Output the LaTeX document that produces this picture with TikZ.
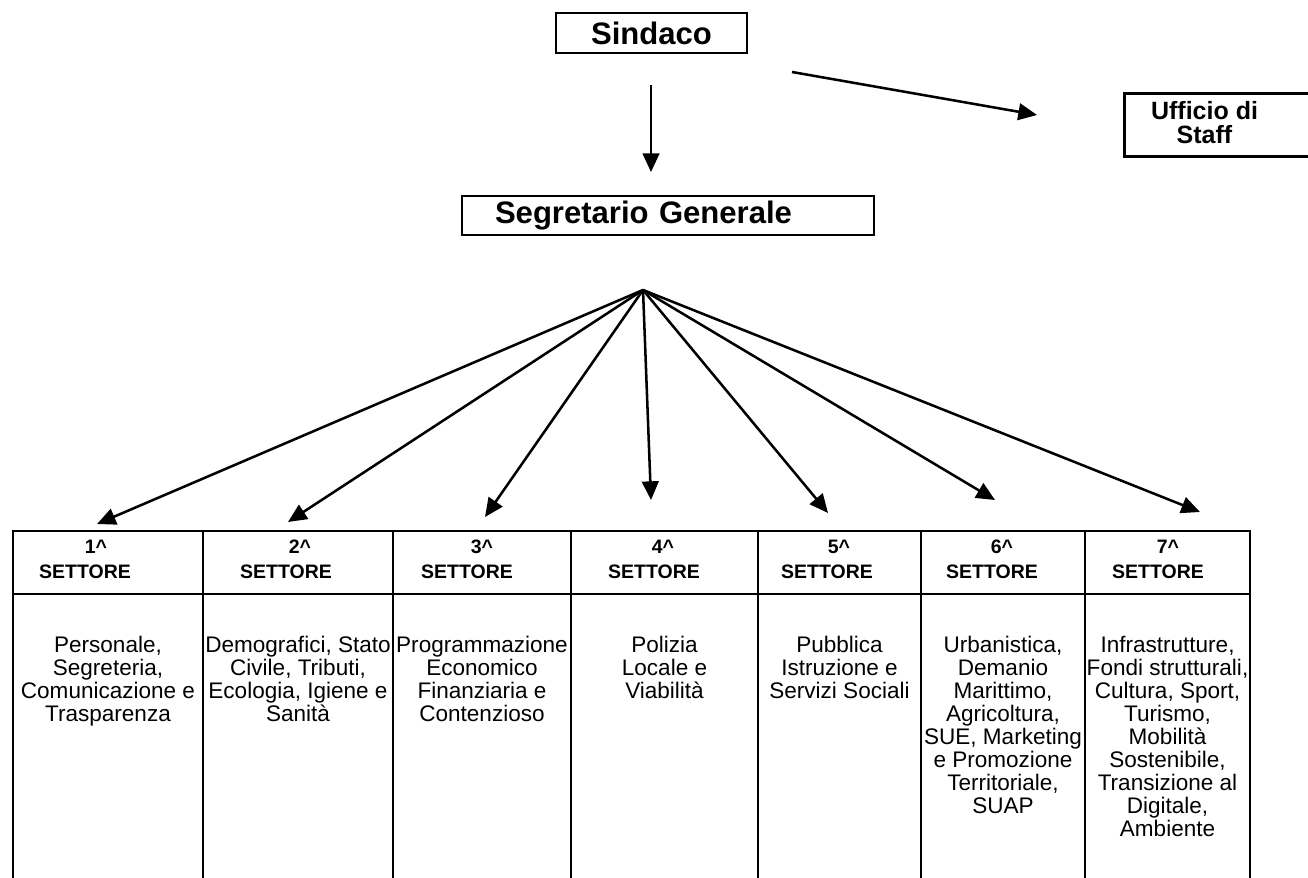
\documentclass[tikz,border=0pt]{standalone}
\usepackage{fontspec}
\setmainfont{Liberation Sans}
\usetikzlibrary{arrows.meta}
\begin{document}
\begin{tikzpicture}[x=0.75pt,y=-0.75pt,
  box/.style={draw, line width=2.1pt, inner sep=0pt},
  titlefont/.style={font=\bfseries\fontsize{23.3pt}{27pt}\selectfont},
  stafffont/.style={font=\bfseries\fontsize{18.75pt}{18pt}\selectfont, align=center, inner sep=0pt},
  headtext/.style={font=\bfseries\fontsize{14.6pt}{17pt}\selectfont, inner sep=0pt, anchor=base},
  bodytext/.style={font=\fontsize{16.9pt}{17.25pt}\selectfont, align=center, inner sep=0pt, anchor=north},
  arr/.style={line width=1.9pt, -{Triangle[length=14pt,width=12.5pt]}},
  gridline/.style={line width=1.9pt, line cap=rect}
]
\useasboundingbox (0,0) rectangle (1308,877);
\clip (0,0) rectangle (1308,877);

% top boxes
\node[box, titlefont, minimum width=143.25pt, minimum height=30pt] (sindaco) at (651.5,33) {Sindaco};
\node[box, titlefont, minimum height=29.25pt, inner xsep=24.75pt, text width=259.5pt, align=left] (segr) at (668,215.5) {Segretario Generale};
\node[box, minimum width=150pt, minimum height=47.25pt, anchor=north west] (staff) at (1123,92) {};
\node[stafffont, anchor=north] (stafftext) at (1204.5,101) {Ufficio di\\Staff};

% arrows from Sindaco
\coordinate (sa) at (651,85);
\coordinate (sb) at (651,172);
\draw[arr] (sa) -- (sb);
\coordinate (ta) at (792,72);
\coordinate (tb) at (1037,115);
\draw[arr] (ta) -- (tb);

% fan from Segretario
\coordinate (fan) at (643,290);
\coordinate (e1) at (97,524);
\coordinate (e2) at (288,522);
\coordinate (e3) at (485,517);
\coordinate (e4) at (651,500);
\coordinate (e5) at (828,513);
\coordinate (e6) at (995,500);
\coordinate (e7) at (1200,512);
\foreach \i in {1,...,7} \draw[arr] (fan) -- (e\i);

% table
\foreach \x in {13,203,393,571,758,921,1085,1250} \draw[gridline] (\x,531) -- (\x,880);
\draw[gridline] (13,531) -- (1250,531);
\draw[gridline] (13,594) -- (1250,594);

% headers
\node[headtext] (n1) at (96,553) {1\textasciicircum};
\node[headtext] (h1) at (85,578) {SETTORE};
\node[headtext] (n2) at (300,553) {2\textasciicircum};
\node[headtext] (h2) at (286,578) {SETTORE};
\node[headtext] (n3) at (482,553) {3\textasciicircum};
\node[headtext] (h3) at (467,578) {SETTORE};
\node[headtext] (n4) at (663,553) {4\textasciicircum};
\node[headtext] (h4) at (654,578) {SETTORE};
\node[headtext] (n5) at (839,553) {5\textasciicircum};
\node[headtext] (h5) at (827,578) {SETTORE};
\node[headtext] (n6) at (1002,553) {6\textasciicircum};
\node[headtext] (h6) at (992,578) {SETTORE};
\node[headtext] (n7) at (1168,553) {7\textasciicircum};
\node[headtext] (h7) at (1158,578) {SETTORE};

% bodies
\node[bodytext] (b1) at (108,636) {Personale,\\Segreteria,\\Comunicazione e\\Trasparenza};
\node[bodytext] (b2) at (298,636) {Demografici, Stato\\Civile, Tributi,\\Ecologia, Igiene e\\Sanità};
\node[bodytext] (b3) at (482,636) {Programmazione\\Economico\\Finanziaria e\\Contenzioso};
\node[bodytext] (b4) at (664.5,636) {Polizia\\Locale e\\Viabilità};
\node[bodytext] (b5) at (839.5,636) {Pubblica\\Istruzione e\\Servizi Sociali};
\node[bodytext] (b6) at (1003,636) {Urbanistica,\\Demanio\\Marittimo,\\Agricoltura,\\SUE, Marketing\\e Promozione\\Territoriale,\\SUAP};
\node[bodytext] (b7) at (1167.5,636) {Infrastrutture,\\Fondi strutturali,\\Cultura, Sport,\\Turismo,\\Mobilità\\Sostenibile,\\Transizione al\\Digitale,\\Ambiente};
\end{tikzpicture}
\end{document}
